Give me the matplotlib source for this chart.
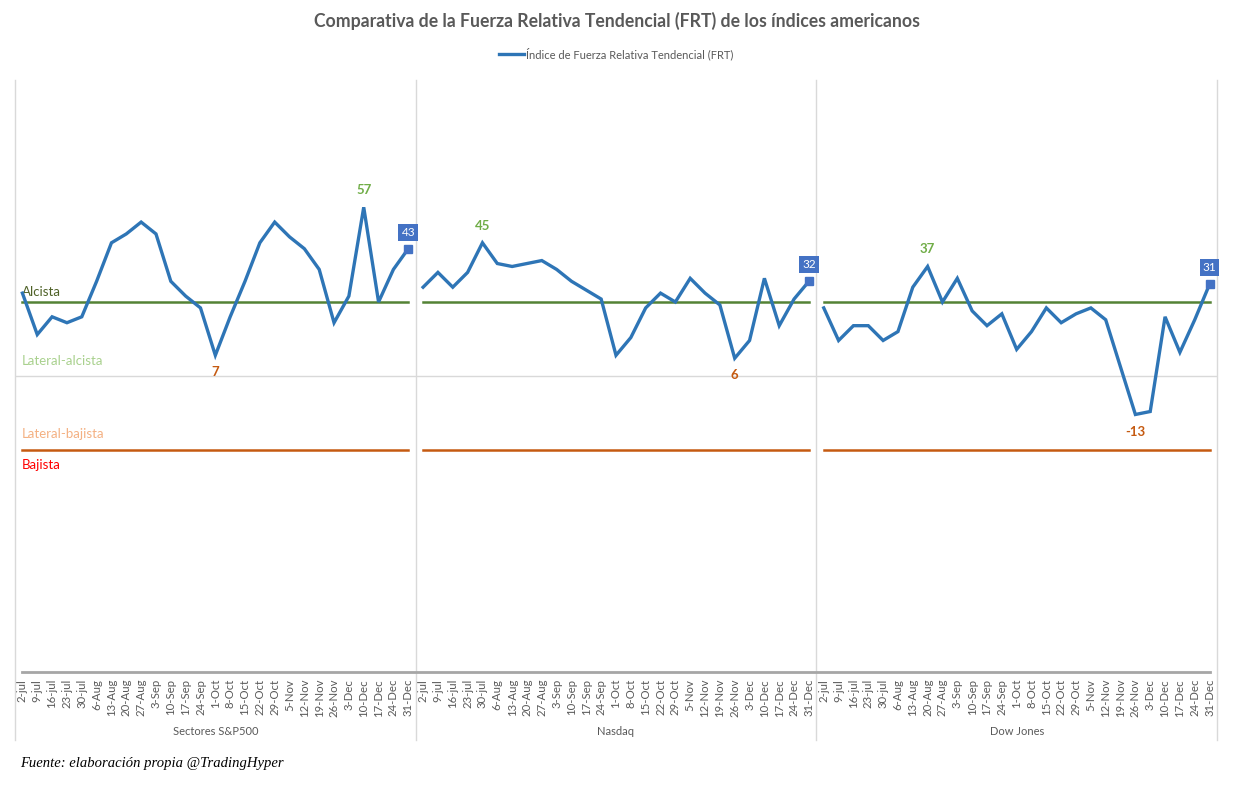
import matplotlib
matplotlib.use("Agg")
import matplotlib.pyplot as plt
from matplotlib.lines import Line2D
import matplotlib.transforms as mtransforms
import numpy as np

plt.rcParams['font.family'] = ['Lato', 'DejaVu Sans']

dates = ["2-jul", "9-jul", "16-jul", "23-jul", "30-jul", "6-Aug", "13-Aug", "20-Aug", "27-Aug",
         "3-Sep", "10-Sep", "17-Sep", "24-Sep", "1-Oct", "8-Oct", "15-Oct", "22-Oct", "29-Oct",
         "5-Nov", "12-Nov", "19-Nov", "26-Nov", "3-Dec", "10-Dec", "17-Dec", "24-Dec", "31-Dec"]
groups = ["Sectores S&P500", "Nasdaq", "Dow Jones"]
sp500 = [28, 14, 20, 18, 20, 32, 45, 48, 52, 48, 32, 27, 23, 7, 20, 32, 45, 52, 47, 43, 36, 18, 27, 57, 25, 36, 43]
nasdaq = [30, 35, 30, 35, 45, 38, 37, 38, 39, 36, 32, 29, 26, 7, 13, 23, 28, 25, 33, 28, 24, 6, 12, 33, 17, 26, 32]
dow = [23, 12, 17, 17, 12, 15, 30, 37, 25, 33, 22, 17, 21, 9, 15, 23, 18, 21, 23, 19, 3, -13, -12, 20, 8, 19, 31]
series = [sp500, nasdaq, dow]
alcista_level = 25
bajista_level = -25

fig = plt.figure(figsize=(12.33, 7.88), dpi=100)
ax = fig.add_axes([15/1233, 1-672/788, (1217-15)/1233, (672-80)/788])

blue = "#2e75b6"
green_line = "#548235"
orange_line = "#c55a11"
n = len(dates)

for g, vals in enumerate(series):
    x = np.arange(n) + g*n
    ax.plot(x, vals, color=blue, lw=2.4, solid_joinstyle='miter', zorder=4)
    ax.plot([x[0], x[-1]], [alcista_level]*2, color=green_line, lw=1.8, zorder=3)
    ax.plot([x[0], x[-1]], [bajista_level]*2, color=orange_line, lw=1.8, zorder=3)
    # last point marker and label
    ax.plot(x[-1], vals[-1], marker='s', ms=6, color="#4472c4", zorder=5)
    ax.annotate(str(vals[-1]), (x[-1], vals[-1]), xytext=(0, 8), textcoords='offset points',
                ha='center', va='bottom', color='white', fontsize=8.5,
                bbox=dict(boxstyle='square,pad=0.25', fc="#4472c4", ec='none'), zorder=6)
    imax = int(np.argmax(vals))
    imin = int(np.argmin(vals))
    ax.annotate(str(vals[imax]), (x[imax], vals[imax]), xytext=(0, 8), textcoords='offset points',
                ha='center', va='bottom', color="#70ad47", fontsize=9.5, fontweight='bold')
    ax.annotate(str(vals[imin]), (x[imin], vals[imin]), xytext=(0, -8), textcoords='offset points',
                ha='center', va='top', color="#c55a11", fontsize=9.5, fontweight='bold')

ax.set_xlim(-0.5, 3*n - 0.5)
ax.set_ylim(-100, 100)
ax.axhline(0, color="#d9d9d9", lw=1, zorder=1)
ax.plot([0, 3*n - 1], [-100, -100], color="#a6a6a6", lw=2, clip_on=False, zorder=3)

trans = mtransforms.blended_transform_factory(ax.transData, ax.transAxes)
for xs in [-0.5, n - 0.5, 2*n - 0.5, 3*n - 0.5]:
    ax.add_line(Line2D([xs, xs], [-0.115, 1], transform=trans, color="#d9d9d9", lw=1, clip_on=False))

for s in ax.spines.values():
    s.set_visible(False)
ax.set_yticks([])
ax.set_xticks(np.arange(3*n))
ax.set_xticklabels(dates*3, rotation=90, fontsize=8.2, color="#595959")
ax.tick_params(axis='x', length=0, pad=5)

for g, name in enumerate(groups):
    ax.text(g*n + (n-1)/2, -0.10, name, transform=trans, ha='center', va='center',
            fontsize=8, color="#595959")

# zone labels
ax.text(-0.05, 26.5, "Alcista", color="#4f6228", fontsize=9.5, ha='left', va='bottom')
ax.text(-0.05, 5, "Lateral-alcista", color="#a9d18e", fontsize=9.5, ha='left', va='center')
ax.text(-0.05, -19.5, "Lateral-bajista", color="#f4b183", fontsize=9.5, ha='left', va='center')
ax.text(-0.05, -30, "Bajista", color="#ff0000", fontsize=9.5, ha='left', va='center')

fig.text(0.5, 1-21/788, "Comparativa de la Fuerza Relativa Tendencial (FRT) de los índices americanos",
         ha='center', va='center', fontsize=12.7, fontweight='bold', color="#595959")
handle = Line2D([], [], color=blue, lw=2.4)
fig.legend(handles=[handle], labels=["Índice de Fuerza Relativa Tendencial (FRT)"], loc='center',
           bbox_to_anchor=(0.5, 1-54/788), frameon=False, fontsize=8, handlelength=2.2,
           handletextpad=0.2, labelcolor="#595959")

fig.text(20/1233, 1-763/788, "Fuente: elaboración propia @TradingHyper", ha='left', va='center',
         fontsize=10.5, style='italic', family='Liberation Serif', color='black')

fig.savefig("out.png", dpi=100)
